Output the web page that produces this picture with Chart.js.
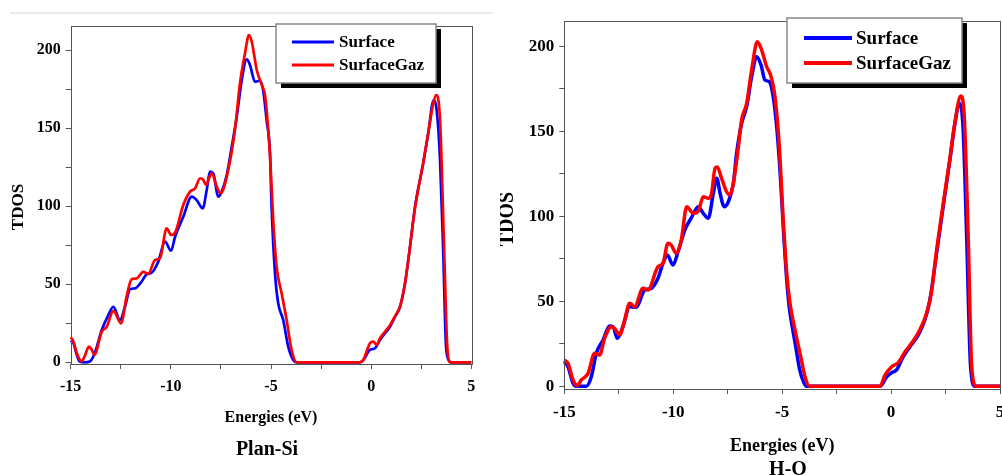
<!DOCTYPE html>
<html><head><meta charset="utf-8">
<script src="https://cdn.jsdelivr.net/npm/chart.js@4/dist/chart.umd.min.js"></script>
<style>
html,body{margin:0;padding:0;background:#fff;overflow:hidden;width:1002px;height:475px;}
#wrapL{position:absolute;left:0;top:0;width:500px;height:475px;}
#wrapR{position:absolute;left:500px;top:0;width:520px;height:475px;}
#rule{position:absolute;left:10px;top:12px;width:483px;height:2px;background:#e9e9e9;}
</style></head><body>
<div id="rule"></div>
<div id="wrapL"><canvas id="cL" width="500" height="475"></canvas></div>
<div id="wrapR"><canvas id="cR" width="520" height="475"></canvas></div>
<script>
// ---------- DATA ----------
const seriesNames = ['Surface', 'SurfaceGaz'];
const xTicks = [-15, -12.5, -10, -7.5, -5, -2.5, 0, 2.5, 5];
const xLabels = [-15, -10, -5, 0, 5];
const yTicks = [0, 25, 50, 75, 100, 125, 150, 175, 200];
const yLabels = [0, 50, 100, 150, 200];
const panelTitles = ['Plan-Si', 'H-O'];
const xTitle = 'Energies (eV)';
const yTitle = 'TDOS';

// Panel 1 : Plan-Si
const planSiSurfE = [-15, -14.87, -14.7, -14.55, -14.3, -14.05, -13.8, -13.45, -13.12, -12.87, -12.54, -12.29, -12.04, -11.79, -11.46, -11.21, -10.96, -10.63, -10.29, -9.99, -9.79, -9.38, -8.96, -8.71, -8.41, -8.21, -8.05, -7.88, -7.63, -7.46, -7.21, -6.96, -6.71, -6.46, -6.21, -6.05, -5.80, -5.55, -5.38, -5.22, -5.05, -4.97, -4.80, -4.64, -4.39, -4.14, -3.89, -3.72, -0.56, -0.39, -0.06, 0.19, 0.44, 0.69, 0.94, 1.19, 1.44, 1.69, 1.94, 2.19, 2.60, 2.85, 3.12, 3.27, 3.44, 3.60, 3.74, 3.89, 4.0, 5];
const planSiSurfV = [14, 12.5, 5, 0.5, 0, 0.5, 5.8, 20.7, 30.3, 35.6, 27.1, 35.6, 46.8, 47.4, 51.7, 56.4, 57.4, 64.5, 77.3, 71.5, 80.5, 93.3, 106.2, 104, 98.7, 110.4, 122.2, 121, 106.2, 109.4, 120, 138.2, 157.4, 181, 194.2, 190.6, 179.9, 180.5, 173.5, 155.3, 134, 99.7, 57, 37.8, 27.1, 10, 1.5, 0, 0, 1.5, 7.9, 9, 14.3, 18.6, 22.8, 29.2, 35.6, 50.6, 74.1, 99.7, 127.6, 146.8, 168, 161.7, 129.7, 69.9, 10, 1, 0, 0];
const planSiGazE = [-15, -14.87, -14.7, -14.45, -14.3, -14.09, -13.95, -13.82, -13.45, -13.2, -12.87, -12.49, -12.21, -11.96, -11.7, -11.38, -11.13, -10.79, -10.54, -10.21, -9.99, -9.79, -9.38, -9.04, -8.79, -8.54, -8.38, -8.25, -7.96, -7.71, -7.51, -7.21, -6.80, -6.55, -6.30, -6.10, -5.96, -5.71, -5.46, -5.30, -5.22, -5.05, -4.89, -4.72, -4.47, -4.22, -3.97, -3.72, -0.56, -0.39, -0.06, 0.11, 0.28, 0.44, 0.69, 0.94, 1.19, 1.44, 1.69, 1.94, 2.19, 2.60, 2.85, 3.10, 3.25, 3.44, 3.65, 3.80, 3.95, 5];
const planSiGazV = [16, 13.5, 6, 0.5, 4, 10, 8, 4.7, 19.6, 22.8, 33, 25, 42, 53.2, 53.8, 58, 56.7, 65.6, 66.7, 85.9, 81.6, 83, 100.8, 109.4, 111.5, 118, 116.9, 113.7, 121.1, 112.6, 108.3, 119, 148.9, 178.8, 198, 209.8, 205.5, 187.4, 177.8, 171.3, 161.7, 133, 91.2, 61.3, 44.2, 27.1, 7.9, 0, 0, 1.5, 12.2, 13.2, 11.1, 15.4, 19.6, 23.8, 29.5, 35.6, 50.6, 74, 99, 128, 147, 166, 171.3, 155.3, 69.9, 10, 0, 0];

// Panel 2 : H-O
const hoSurfE = [-15, -14.83, -14.6, -14.45, -13.99, -13.76, -13.53, -13.22, -12.92, -12.76, -12.57, -12.31, -12.0, -11.70, -11.31, -11.01, -10.70, -10.47, -10.27, -10.01, -9.78, -9.47, -9.17, -8.85, -8.62, -8.39, -8.16, -8.0, -7.85, -7.66, -7.47, -7.24, -7.09, -6.86, -6.63, -6.40, -6.17, -5.97, -5.79, -5.59, -5.41, -5.25, -5.10, -4.95, -4.79, -4.67, -4.55, -4.40, -4.20, -4.0, -3.88, -0.51, -0.20, 0.03, 0.25, 0.56, 0.87, 1.25, 1.55, 1.78, 2.09, 2.39, 2.70, 2.93, 3.14, 3.31, 3.47, 3.65, 3.85, 5];
const hoSurfV = [14.5, 11.5, 1.8, 0, 0, 5.6, 19.4, 27.2, 35.4, 35, 28.2, 35, 46.8, 46.4, 56.6, 57.6, 63.5, 72.3, 77.2, 71.3, 79.1, 91.9, 99, 105.6, 101.7, 98.8, 113.5, 122.3, 113.5, 105.6, 108.5, 119.3, 137, 154.6, 164.4, 182, 193.8, 188.9, 180.1, 179.1, 170.3, 152.6, 127.2, 93.8, 62.5, 46, 36, 25, 10, 2, 0, 0, 5.6, 8, 9.6, 17.4, 23.3, 30.2, 39, 50.7, 78.2, 105.6, 133, 154.6, 166.5, 150.7, 88, 11.5, 0, 0];
const hoGazE = [-15, -14.83, -14.6, -14.4, -14.22, -13.91, -13.61, -13.38, -13.15, -12.84, -12.69, -12.46, -12.23, -12.0, -11.77, -11.39, -11.16, -10.70, -10.47, -10.24, -10.09, -9.86, -9.63, -9.38, -9.08, -8.85, -8.62, -8.39, -8.24, -8.08, -7.98, -7.78, -7.55, -7.40, -7.24, -7.01, -6.86, -6.63, -6.40, -6.14, -5.94, -5.71, -5.53, -5.33, -5.13, -4.95, -4.79, -4.64, -4.41, -4.18, -3.95, -3.75, -0.51, -0.28, 0.03, 0.33, 0.64, 0.94, 1.32, 1.63, 1.85, 2.09, 2.39, 2.70, 2.93, 3.20, 3.36, 3.54, 3.70, 3.92, 5];
const hoGazV = [15.5, 13.5, 3.7, 0.5, 3.7, 7.6, 19.4, 18.4, 28.2, 35, 34, 30.2, 39, 48.8, 46.8, 57.6, 56.6, 70.3, 72.3, 84.1, 83, 78.2, 86, 105.6, 101.7, 103, 111.5, 110.5, 113.5, 128.2, 129, 122.3, 114.4, 112.5, 119.3, 140.9, 156.6, 166.4, 186, 202.6, 197.7, 187.9, 183, 170.3, 140.9, 97.8, 66.4, 48.8, 33.1, 19.4, 5.6, 0, 0, 6.6, 11.5, 13.9, 20.3, 25.3, 33.1, 42.9, 55, 80, 107, 134, 155, 170.7, 158.5, 88, 11.5, 0, 0];

// ---------- RENDERING ----------
const FONT = '"Liberation Serif", "Times New Roman", serif';
function pts(xs, ys) { return xs.map((x, i) => ({ x: x, y: ys[i] })); }

const panelDecor = {
  id: 'panelDecor',
  afterDraw(chart, args, o) {
    const ctx = chart.ctx, a = chart.chartArea;
    ctx.save();
    ctx.strokeStyle = '#555'; ctx.lineWidth = 1;
    ctx.strokeRect(Math.round(a.left) + 0.5, Math.round(a.top) + 0.5, Math.round(a.right - a.left), Math.round(a.bottom - a.top));
    // y title
    ctx.save();
    ctx.fillStyle = '#000';
    ctx.font = 'bold ' + o.yTitleSize + 'px ' + FONT;
    ctx.translate(o.yTitleX, o.yTitleY); ctx.rotate(-Math.PI / 2);
    ctx.textAlign = 'center'; ctx.textBaseline = 'middle';
    ctx.fillText(o.yTitle, 0, 0);
    ctx.restore();
    // caption
    ctx.fillStyle = '#000';
    ctx.font = 'bold ' + o.capSize + 'px ' + FONT;
    ctx.textAlign = 'center'; ctx.textBaseline = 'middle';
    ctx.fillText(o.caption, o.capX, o.capY);
    // legend
    const L = o.legend;
    ctx.fillStyle = '#000'; ctx.fillRect(L.x + L.shadow, L.y + L.shadow, L.w, L.h);
    ctx.fillStyle = '#fff'; ctx.fillRect(L.x, L.y, L.w, L.h);
    ctx.strokeStyle = '#888'; ctx.lineWidth = 1.5; ctx.strokeRect(L.x, L.y, L.w, L.h);
    chart.data.datasets.forEach((ds, i) => {
      const y = L.rowY[i];
      ctx.strokeStyle = ds.borderColor; ctx.lineWidth = L.lineW; ctx.lineCap = 'butt';
      ctx.beginPath(); ctx.moveTo(L.lineX0, y); ctx.lineTo(L.lineX1, y); ctx.stroke();
      ctx.fillStyle = '#000'; ctx.font = 'bold ' + L.size + 'px ' + FONT;
      ctx.textAlign = 'left'; ctx.textBaseline = 'middle';
      ctx.fillText(ds.label, L.textX, y + 1);
    });
    ctx.restore();
  }
};

function makePanel(id, g, surf, gaz, caption) {
  const canvas = document.getElementById(id);
  const W = canvas.width, H = canvas.height;
  return new Chart(canvas, {
    type: 'line',
    data: {
      datasets: [
        { label: seriesNames[0], data: surf, borderColor: '#0000ff', borderWidth: g.lw, pointRadius: 0, cubicInterpolationMode: 'monotone', order: 1, clip: false },
        { label: seriesNames[1], data: gaz, borderColor: '#ff0000', borderWidth: g.lw, pointRadius: 0, cubicInterpolationMode: 'monotone', order: 0, clip: false }
      ]
    },
    options: {
      responsive: false, animation: false, devicePixelRatio: 1,
      layout: { padding: { left: 0, top: g.top, right: W - g.right, bottom: 0 } },
      plugins: {
        legend: { display: false }, tooltip: { enabled: false },
        panelDecor: {
          yTitle: yTitle, yTitleX: g.yTitleX, yTitleY: g.yTitleY, yTitleSize: g.yTitleSize,
          caption: caption, capX: g.capX, capY: g.capY, capSize: g.capSize,
          legend: g.legend
        }
      },
      scales: {
        x: {
          type: 'linear', min: -15, max: 5,
          afterBuildTicks: s => { s.ticks = xTicks.map(v => ({ value: v })); },
          afterFit: s => { s.height = H - g.bottom; },
          ticks: { autoSkip: false, maxRotation: 0, color: '#000', padding: g.xPad,
                   font: { family: FONT, weight: 'bold', size: g.tickSize },
                   callback: v => xLabels.includes(v) ? String(v) : '' },
          grid: { display: true, drawOnChartArea: false, drawTicks: true, tickLength: 5, tickColor: '#555', tickWidth: 1 },
          border: { display: false },
          title: { display: true, text: xTitle, color: '#000', font: { family: FONT, weight: 'bold', size: g.xTitleSize }, padding: { top: 0, bottom: g.xTitlePad } }
        },
        y: {
          type: 'linear', min: g.ymin, max: g.ymax,
          afterBuildTicks: s => { s.ticks = yTicks.map(v => ({ value: v })); },
          afterFit: s => { s.width = g.left; },
          ticks: { autoSkip: false, color: '#000', padding: 5,
                   font: { family: FONT, weight: 'bold', size: g.tickSize },
                   callback: v => yLabels.includes(v) ? String(v) : '' },
          grid: { display: true, drawOnChartArea: false, drawTicks: true, tickLength: 5, tickColor: '#555', tickWidth: 1 },
          border: { display: false }
        }
      }
    },
    plugins: [panelDecor]
  });
}

makePanel('cL', {
  left: 70.7, right: 471.3, top: 26, bottom: 364, ymin: -1.1, ymax: 215.6, lw: 2.7,
  tickSize: 16, xPad: 8, xTitleSize: 16, xTitlePad: 48,
  yTitleX: 19, yTitleY: 207, yTitleSize: 17,
  capX: 267, capY: 450, capSize: 20,
  legend: { x: 276, y: 24, w: 160, h: 59, shadow: 5, rowY: [42, 65], lineX0: 292, lineX1: 334, lineW: 3, textX: 339, size: 17 }
}, pts(planSiSurfE, planSiSurfV), pts(planSiGazE, planSiGazV), panelTitles[0]);

makePanel('cR', {
  left: 64.3, right: 500, top: 21, bottom: 389, ymin: -1.6, ymax: 214.8, lw: 3.5,
  tickSize: 17, xPad: 8, xTitleSize: 18, xTitlePad: 18,
  yTitleX: 8, yTitleY: 219, yTitleSize: 20,
  capX: 288, capY: 470, capSize: 20,
  legend: { x: 287, y: 18, w: 175, h: 65, shadow: 5, rowY: [38, 63], lineX0: 304, lineX1: 352, lineW: 4, textX: 356, size: 19 }
}, pts(hoSurfE, hoSurfV), pts(hoGazE, hoGazV), panelTitles[1]);
</script>
</body></html>
